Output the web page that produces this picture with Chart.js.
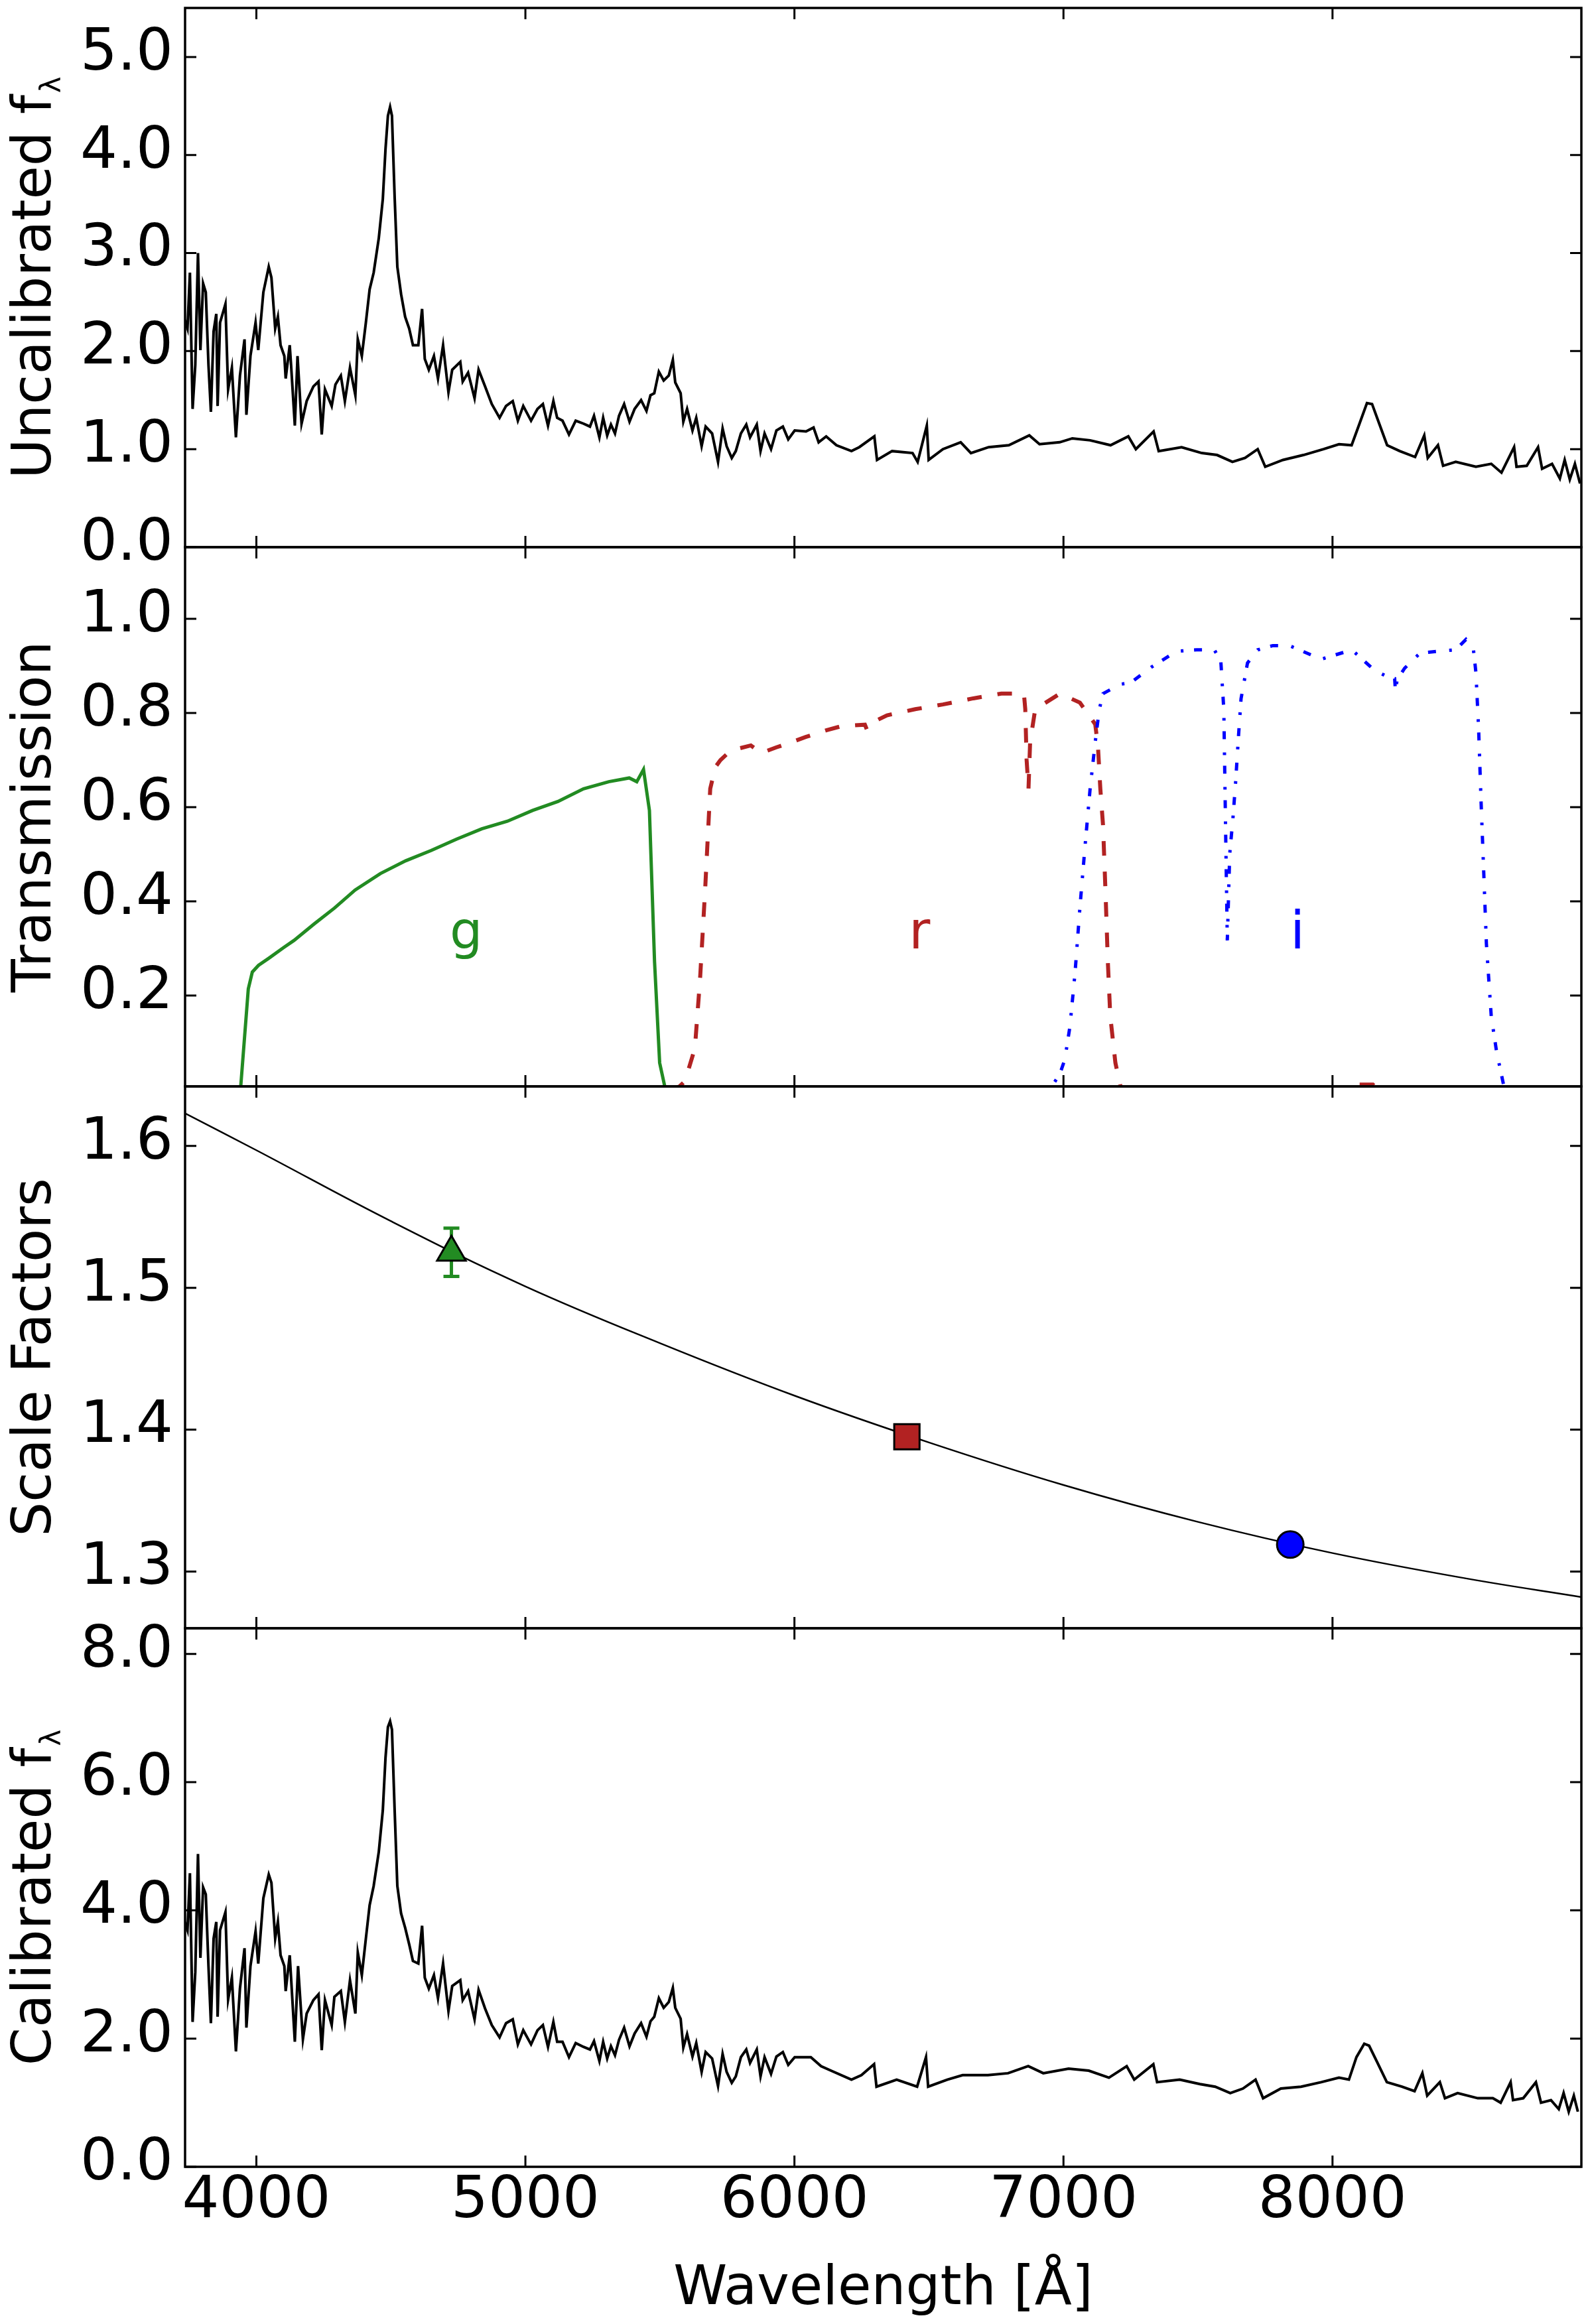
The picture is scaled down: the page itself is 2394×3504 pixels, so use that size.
<!DOCTYPE html>
<html>
<head>
<meta charset="utf-8">
<script src="https://cdn.jsdelivr.net/npm/chart.js@4.4.0/dist/chart.umd.min.js"></script>
<style>
  body { margin: 0; background: #fff; }
  #wrap { position: relative; width: 2394px; height: 3504px; background: #fff; overflow: hidden; }
  canvas { position: absolute; left: 0; }
</style>
</head>
<body>
<div id="wrap">
  <canvas id="panel1" width="2394" height="885" style="top:0px"></canvas>
  <canvas id="panel2" width="2394" height="933" style="top:765px"></canvas>
  <canvas id="panel3" width="2394" height="937" style="top:1578px"></canvas>
  <canvas id="panel4" width="2394" height="1109" style="top:2395px"></canvas>
</div>
<script>
// ---- data ----
const xTicks = [4000, 5000, 6000, 7000, 8000];
const yTicks1 = [0, 1, 2, 3, 4, 5];
const yTicks2 = [0.2, 0.4, 0.6, 0.8, 1.0];
const yTicks3 = [1.3, 1.4, 1.5, 1.6];
const yTicks4 = [0, 2, 4, 6, 8];

// uncalibrated spectrum
const specWave = [3734,3744,3753,3763,3773,3783,3792,3802,3812,3822,3831,3841,3851,3856,3865,3885,3895,3909,3924,3939,3956,3963,3978,3997,4007,4026,4046,4056,4070,4080,4090,4104,4109,4124,4129,4143,4153,4168,4187,4212,4231,4243,4255,4280,4294,4314,4329,4348,4368,4377,4392,4407,4421,4436,4455,4470,4480,4489,4497,4504,4514,4524,4538,4553,4568,4582,4602,4616,4626,4641,4660,4675,4694,4714,4728,4758,4767,4787,4811,4826,4850,4875,4904,4928,4953,4972,4992,5021,5045,5065,5084,5104,5118,5138,5162,5187,5216,5240,5255,5275,5289,5304,5318,5333,5348,5367,5387,5406,5430,5450,5465,5479,5496,5514,5533,5548,5557,5577,5587,5601,5621,5635,5655,5670,5694,5716,5733,5748,5767,5782,5801,5821,5835,5860,5874,5889,5913,5933,5957,5977,6001,6043,6071,6090,6118,6156,6212,6241,6297,6307,6363,6439,6458,6492,6499,6552,6618,6656,6722,6797,6873,6911,6986,7033,7099,7175,7241,7269,7335,7354,7439,7514,7571,7628,7675,7722,7750,7816,7892,7967,8024,8071,8099,8128,8147,8175,8203,8250,8307,8341,8354,8392,8411,8458,8533,8590,8628,8675,8684,8722,8764,8779,8816,8845,8863,8882,8901,8920];
const specFlux = [2.32,2.23,2.80,1.41,1.86,3.00,2.01,2.69,2.60,1.86,1.38,2.20,2.38,1.44,2.29,2.48,1.61,1.83,1.12,1.75,2.12,1.35,1.95,2.29,2.01,2.60,2.86,2.75,2.23,2.35,2.06,1.95,1.72,2.06,1.86,1.24,1.95,1.26,1.49,1.64,1.69,1.15,1.61,1.44,1.66,1.75,1.49,1.83,1.55,2.12,1.95,2.29,2.63,2.80,3.15,3.55,4.06,4.40,4.49,4.40,3.57,2.86,2.58,2.35,2.23,2.06,2.06,2.43,1.92,1.81,1.95,1.72,2.06,1.58,1.81,1.89,1.69,1.78,1.52,1.81,1.64,1.46,1.32,1.44,1.49,1.29,1.44,1.29,1.41,1.46,1.24,1.49,1.32,1.29,1.15,1.29,1.26,1.23,1.34,1.12,1.32,1.14,1.25,1.16,1.34,1.46,1.28,1.41,1.50,1.39,1.55,1.57,1.79,1.70,1.75,1.91,1.68,1.57,1.28,1.41,1.19,1.32,1.03,1.23,1.16,0.87,1.21,1.03,0.91,0.98,1.16,1.25,1.12,1.25,0.98,1.16,1.00,1.19,1.23,1.10,1.19,1.18,1.22,1.07,1.13,1.04,0.98,1.02,1.13,0.89,0.98,0.96,0.87,1.24,0.89,1.00,1.07,0.96,1.02,1.04,1.14,1.05,1.07,1.11,1.09,1.04,1.13,1.00,1.18,0.98,1.02,0.96,0.94,0.87,0.91,1.00,0.82,0.89,0.94,1.00,1.05,1.04,1.25,1.47,1.46,1.25,1.04,0.98,0.92,1.14,0.91,1.04,0.83,0.87,0.82,0.85,0.76,1.02,0.82,0.83,1.02,0.80,0.85,0.70,0.89,0.69,0.85,0.65];

// calibrated spectrum
const calWave = [3734,3744,3753,3763,3773,3783,3792,3802,3812,3822,3831,3841,3851,3856,3865,3885,3895,3909,3924,3939,3956,3963,3978,3997,4007,4026,4046,4056,4070,4080,4090,4104,4109,4124,4129,4143,4155,4173,4187,4212,4231,4243,4255,4280,4290,4314,4329,4348,4368,4377,4392,4407,4421,4436,4455,4470,4480,4489,4497,4504,4514,4524,4538,4553,4568,4582,4602,4616,4626,4641,4660,4675,4694,4714,4728,4758,4767,4787,4811,4826,4850,4875,4904,4928,4953,4972,4992,5021,5045,5065,5084,5104,5118,5138,5162,5187,5216,5240,5255,5275,5289,5304,5318,5333,5348,5367,5387,5406,5430,5450,5465,5479,5496,5514,5533,5548,5557,5577,5587,5601,5621,5635,5655,5670,5694,5716,5733,5748,5767,5782,5801,5821,5835,5860,5874,5889,5913,5933,5957,5977,6001,6061,6099,6136,6212,6249,6296,6305,6380,6456,6489,6497,6568,6625,6719,6794,6869,6925,7019,7094,7169,7235,7263,7334,7348,7432,7507,7564,7620,7667,7714,7742,7808,7883,7958,8024,8061,8089,8118,8136,8165,8202,8258,8305,8334,8352,8399,8418,8465,8540,8596,8625,8662,8671,8709,8756,8775,8812,8841,8859,8878,8897,8912];
const calFlux = [3.82,3.69,4.58,2.26,3.04,4.88,3.26,4.36,4.25,3.13,2.24,3.56,3.82,2.34,3.69,3.97,2.61,2.95,1.80,2.78,3.41,2.17,3.13,3.67,3.17,4.19,4.56,4.43,3.56,3.82,3.30,3.13,2.74,3.30,2.95,1.95,3.13,1.99,2.39,2.60,2.69,1.82,2.60,2.21,2.65,2.74,2.26,2.91,2.39,3.34,2.99,3.56,4.08,4.38,4.91,5.56,6.38,6.86,6.95,6.82,5.56,4.38,3.95,3.73,3.47,3.21,3.17,3.76,2.95,2.78,2.99,2.63,3.17,2.43,2.82,2.91,2.60,2.74,2.30,2.76,2.47,2.21,2.02,2.24,2.30,1.91,2.13,1.91,2.13,2.21,1.87,2.26,1.95,1.95,1.71,1.93,1.87,1.83,1.96,1.65,1.95,1.69,1.88,1.74,1.98,2.17,1.88,2.08,2.24,2.03,2.27,2.34,2.63,2.48,2.57,2.79,2.48,2.31,1.86,2.07,1.72,1.93,1.48,1.79,1.69,1.26,1.76,1.48,1.31,1.41,1.71,1.83,1.62,1.83,1.41,1.71,1.45,1.72,1.79,1.59,1.71,1.71,1.57,1.50,1.36,1.43,1.60,1.25,1.36,1.25,1.71,1.25,1.36,1.43,1.43,1.46,1.57,1.46,1.53,1.50,1.39,1.57,1.36,1.60,1.32,1.36,1.29,1.25,1.15,1.22,1.36,1.07,1.22,1.25,1.32,1.39,1.36,1.71,1.92,1.89,1.64,1.32,1.25,1.18,1.46,1.11,1.32,1.07,1.15,1.07,1.07,1.00,1.32,1.04,1.07,1.32,1.00,1.04,0.90,1.15,0.86,1.11,0.86];

// filter transmission curves
const gWave = [3900,3941,3970,3985,4008,4046,4102,4140,4215,4291,4367,4461,4555,4650,4744,4838,4933,5027,5121,5216,5310,5386,5414,5439,5461,5480,5499,5518,5540];
const gTrans = [0,0,0.214,0.25,0.264,0.279,0.302,0.317,0.352,0.386,0.424,0.459,0.486,0.508,0.532,0.554,0.57,0.593,0.612,0.639,0.654,0.662,0.654,0.68,0.593,0.272,0.057,0.007,0];
const rWave = [5540,5573,5593,5630,5649,5668,5687,5706,5725,5763,5838,5876,5933,5990,6042,6118,6175,6262,6269,6290,6344,6449,6552,6665,6769,6853,6858,6863,6870,6876,6895,6987,7061,7118,7128,7137,7147,7156,7165,7174,7193,7212,7240,8080,8100,8150,8170,8300];
const rTrans = [0,0.007,0.018,0.088,0.233,0.424,0.639,0.685,0.70,0.72,0.731,0.715,0.727,0.738,0.749,0.763,0.772,0.775,0.765,0.78,0.795,0.808,0.818,0.831,0.841,0.841,0.808,0.70,0.639,0.738,0.808,0.841,0.822,0.776,0.731,0.639,0.562,0.424,0.271,0.156,0.057,0.007,0,0,0.011,0.011,0,0];
const iWave = [6900,6930,6960,6987,7005,7024,7043,7061,7080,7099,7118,7133,7147,7212,7250,7326,7420,7495,7561,7585,7596,7600,7604,7609,7618,7630,7640,7650,7660,7684,7722,7778,7844,7958,8072,8155,8193,8231,8234,8240,8268,8325,8392,8458,8496,8524,8533,8543,8552,8562,8572,8590,8610,8636,8660];
const iTrans = [0,0,0.01,0.034,0.064,0.134,0.248,0.386,0.516,0.639,0.738,0.807,0.841,0.861,0.864,0.897,0.931,0.934,0.934,0.909,0.807,0.654,0.501,0.317,0.501,0.577,0.654,0.746,0.830,0.906,0.934,0.943,0.942,0.914,0.934,0.891,0.88,0.873,0.845,0.87,0.895,0.927,0.931,0.934,0.956,0.934,0.886,0.768,0.615,0.463,0.31,0.156,0.08,0.01,0];
const filterNames = ['g', 'r', 'i'];
const filterColors = ['#228B22', '#B22222', '#0000FF'];
const filterLabelX = [4780, 6465, 7870];
const filterLabelY = [0.30, 0.30, 0.30];

// scale factors and fitted curve
const bandWave = [4725, 6418, 7843];
const bandScale = [1.525, 1.395, 1.319];
const bandErr = [0.017, 0, 0];
const bandStyle = ['triangle', 'rect', 'circle'];
const bandSize = [25, 27, 20];
const fitWave = [3735, 4000, 4500, 5000, 5500, 6000, 6500, 7000, 7500, 8000, 8500, 8925];
const fitScale = [1.623, 1.597, 1.547, 1.501, 1.461, 1.424, 1.391, 1.361, 1.335, 1.313, 1.295, 1.282];

const xMin = 3735, xMax = 8925;
const FONT = 'DejaVu Sans';
const TICK = 17;

function xy(xs, ys) {
  return xs.map((x, i) => ({ x: x, y: ys[i] }));
}

// frame, inward ticks on all sides, axis titles and text labels
const framePlugin = {
  id: 'frame',
  afterDatasetDraw(chart, args, opts) {
    // error bars sit between the fit line and the markers
    if (!opts.errBars || args.index !== 1) return;
    const ctx = chart.ctx;
    const xs = chart.scales.x, ys = chart.scales.y;
    ctx.save();
    ctx.lineWidth = 5;
    for (let i = 0; i < bandWave.length; i++) {
      if (!bandErr[i]) continue;
      const px = xs.getPixelForValue(bandWave[i]);
      const y1 = ys.getPixelForValue(bandScale[i] - bandErr[i]);
      const y2 = ys.getPixelForValue(bandScale[i] + bandErr[i]);
      ctx.strokeStyle = filterColors[i];
      ctx.beginPath();
      ctx.moveTo(px, y1); ctx.lineTo(px, y2);
      ctx.moveTo(px - 12, y1); ctx.lineTo(px + 12, y1);
      ctx.moveTo(px - 12, y2); ctx.lineTo(px + 12, y2);
      ctx.stroke();
    }
    ctx.restore();
  },
  afterDraw(chart, args, opts) {
    const ctx = chart.ctx;
    const a = chart.chartArea;
    const xs = chart.scales.x, ys = chart.scales.y;
    ctx.save();

    if (opts.labels) {
      ctx.font = '78px "' + FONT + '"';
      ctx.textAlign = 'center';
      ctx.textBaseline = 'alphabetic';
      filterNames.forEach((t, i) => {
        ctx.fillStyle = filterColors[i];
        ctx.fillText(t, xs.getPixelForValue(filterLabelX[i]), ys.getPixelForValue(filterLabelY[i]));
      });
    }

    ctx.strokeStyle = '#000';
    ctx.lineWidth = 3;
    ctx.beginPath();
    xTicks.forEach(v => {
      const px = xs.getPixelForValue(v);
      ctx.moveTo(px, a.top); ctx.lineTo(px, a.top + TICK);
      ctx.moveTo(px, a.bottom); ctx.lineTo(px, a.bottom - TICK);
    });
    opts.yticks.forEach(v => {
      const py = ys.getPixelForValue(v);
      ctx.moveTo(a.left, py); ctx.lineTo(a.left + TICK, py);
      ctx.moveTo(a.right, py); ctx.lineTo(a.right - TICK, py);
    });
    ctx.stroke();
    ctx.lineWidth = 3.5;
    ctx.strokeRect(a.left, a.top, a.right - a.left, a.bottom - a.top);

    // y title, rotated, with optional subscript
    ctx.fillStyle = '#000';
    ctx.translate(76, (a.top + a.bottom) / 2);
    ctx.rotate(-Math.PI / 2);
    ctx.textAlign = 'left';
    ctx.textBaseline = 'alphabetic';
    ctx.font = '82px "' + FONT + '"';
    const w1 = ctx.measureText(opts.title).width;
    let w2 = 0;
    if (opts.sub) {
      ctx.font = '42px "' + FONT + '"';
      w2 = ctx.measureText(opts.sub).width + 3;
    }
    const start = -(w1 + w2) / 2;
    ctx.font = '82px "' + FONT + '"';
    ctx.fillText(opts.title, start, 0);
    if (opts.sub) {
      ctx.font = '42px "' + FONT + '"';
      ctx.fillText(opts.sub, start + w1 + 3, 15);
    }
    ctx.setTransform(1, 0, 0, 1, 0, 0);

    if (opts.xtitle) {
      ctx.font = '82px "' + FONT + '"';
      ctx.textAlign = 'center';
      ctx.fillText(opts.xtitle, (a.left + a.right) / 2, a.bottom + 207);
    }
    ctx.restore();
  }
};

function makeChart(id, datasets, cfg) {
  return new Chart(document.getElementById(id), {
    type: 'scatter',
    data: { datasets: datasets },
    plugins: [framePlugin],
    options: {
      responsive: false,
      animation: false,
      devicePixelRatio: 1,
      events: [],
      layout: { autoPadding: false, padding: { top: cfg.padTop, right: 10, left: 0, bottom: 0 } },
      plugins: {
        legend: { display: false },
        tooltip: { enabled: false },
        frame: { yticks: cfg.yticks, title: cfg.title, sub: cfg.sub, xtitle: cfg.xtitle, labels: cfg.labels, errBars: cfg.errBars }
      },
      scales: {
        x: {
          type: 'linear', min: xMin, max: xMax,
          grid: { display: false, drawTicks: false },
          border: { display: false },
          ticks: {
            display: !!cfg.showX, autoSkip: false, maxRotation: 0, padding: 0,
            color: '#000', font: { family: FONT, size: 88 },
            callback: v => String(v)
          },
          afterBuildTicks: s => { s.ticks = xTicks.map(v => ({ value: v })); },
          afterFit: s => { s.height = cfg.bottom; s.paddingLeft = 0; s.paddingRight = 0; }
        },
        y: {
          type: 'linear', min: cfg.ymin, max: cfg.ymax,
          grid: { display: false, drawTicks: false },
          border: { display: false },
          ticks: {
            padding: 18, labelOffset: -4,
            color: '#000', font: { family: FONT, size: 88 },
            callback: v => Number(v).toFixed(1)
          },
          afterBuildTicks: s => { s.ticks = cfg.yticks.map(v => ({ value: v })); },
          afterFit: s => { s.width = 279; s.paddingTop = 0; s.paddingBottom = 0; }
        }
      }
    }
  });
}

const lineDefaults = { showLine: true, pointRadius: 0, fill: false, tension: 0, clip: 0 };

// panel 1: uncalibrated spectrum
makeChart('panel1', [
  Object.assign({ data: xy(specWave, specFlux), borderColor: '#000', borderWidth: 4 }, lineDefaults)
], { padTop: 12, bottom: 60, ymin: 0, ymax: 5.5, yticks: yTicks1, title: 'Uncalibrated f', sub: 'λ' });

// panel 2: filter curves
makeChart('panel2', [
  Object.assign({ data: xy(iWave, iTrans), borderColor: filterColors[2], borderWidth: 5, borderDash: [12, 20, 4, 16] }, lineDefaults),
  Object.assign({ data: xy(rWave, rTrans), borderColor: filterColors[1], borderWidth: 6, borderDash: [22, 24] }, lineDefaults),
  Object.assign({ data: xy(gWave, gTrans), borderColor: filterColors[0], borderWidth: 5 }, lineDefaults)
], { padTop: 60, bottom: 60, ymin: 0.007, ymax: 1.152, yticks: yTicks2, title: 'Transmission', labels: true });

// panel 3: scale factors, markers on top of the fit
makeChart('panel3', [
  {
    data: xy(bandWave, bandScale), showLine: false,
    pointStyle: bandStyle, pointRadius: bandSize,
    pointBackgroundColor: filterColors, pointBorderColor: '#000', pointBorderWidth: 3
  },
  Object.assign({ data: xy(fitWave, fitScale), borderColor: '#000', borderWidth: 2.5 }, lineDefaults, { tension: 0.4 })
], { padTop: 60, bottom: 60, ymin: 1.26, ymax: 1.642, yticks: yTicks3, title: 'Scale Factors', errBars: true });

// panel 4: calibrated spectrum
makeChart('panel4', [
  Object.assign({ data: xy(calWave, calFlux), borderColor: '#000', borderWidth: 4 }, lineDefaults)
], { padTop: 60, bottom: 237, ymin: 0, ymax: 8.4, yticks: yTicks4, title: 'Calibrated f', sub: 'λ', xtitle: 'Wavelength [Å]', showX: true });
</script>
</body>
</html>
